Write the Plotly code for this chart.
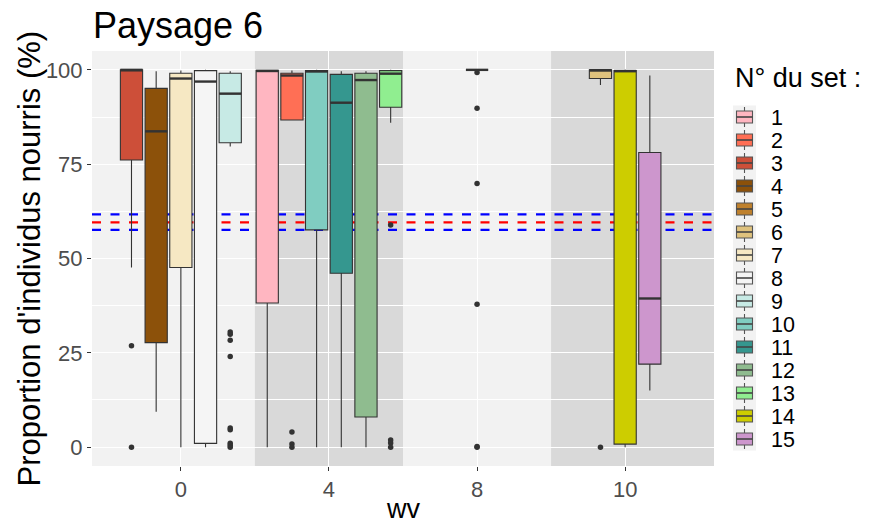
import plotly.graph_objects as go

# ---- data ----
wv_labels = ["0", "4", "8", "10"]
set_ids = list(range(1, 16))
set_wv = ["4", "4", "0", "0", "8", "10", "0", "0", "0", "4", "4", "4", "4", "10", "10"]
lower_fence = [0, 86.7, 47.6, 9.4, 100, 96.0, 0, 0, 79.7, 0, 0, 0, 86.0, 0, 15.0]
q1_vals     = [38.2, 86.7, 76.1, 27.7, 100, 97.7, 47.6, 1.0, 80.7, 57.6, 46.1, 8.0, 90.1, 0.8, 22.0]
median_vals = [99.7, 98.5, 100, 83.7, 100, 99.9, 97.7, 96.9, 93.7, 99.6, 91.3, 97.3, 99.0, 99.7, 39.4]
q3_vals     = [99.9, 99.1, 100, 95.1, 100, 100, 99.1, 99.8, 99.1, 99.8, 98.8, 99.1, 99.8, 99.8, 78.1]
upper_fence = [100, 99.8, 100, 99.6, 100, 100, 99.8, 100, 99.6, 100, 99.6, 99.6, 100, 100, 98.5]
outliers = [
    [], [4.0, 0.8, 0], [26.9, 0], [], [99.3, 89.8, 69.9, 37.9, 0.2, 0], [0],
    [], [], [30.5, 29.9, 28.3, 24.0, 5.1, 4.6, 1.0, 0.5, 0], [], [], [],
    [58.9, 1.9, 1.1, 0], [], [],
]
colors = ["#FFB6C1", "#FF6F55", "#CD4F39", "#8C510A", "#BF812D", "#DFC27D",
          "#F6E8C3", "#F5F5F5", "#C7EAE5", "#80CDC1", "#35978F", "#8FBC8F",
          "#90EE90", "#CDCD00", "#CD96CD"]
ref_mean = 59.6
ref_ci = [57.6, 61.7]
shaded_wv = ["4", "10"]

FONT = "Liberation Sans, Arial, sans-serif"
W, H = 881, 526
L, R, T, B = 92, 714, 51, 466   # panel edges in pixels


def px_x(x):
    return (x - L) / (R - L)


def px_y(y):
    return (B - y) / (B - T)


n_slots = max(set_wv.count(w) for w in wv_labels)
slot = 1.0 / n_slots
box_w = 0.9 * slot

# dodge positions computed from the data
positions = []
for i, s in enumerate(set_ids):
    w = set_wv[i]
    members = [set_ids[k] for k in range(len(set_ids)) if set_wv[k] == w]
    j = members.index(s)
    n = len(members)
    positions.append(wv_labels.index(w) + (j - (n - 1) / 2) * slot)

fig = go.Figure()
med_x, med_y, out_x, out_y = [], [], [], []
for i, s in enumerate(set_ids):
    p = positions[i]
    fig.add_trace(go.Box(
        x=[p], q1=[q1_vals[i]], median=[median_vals[i]], q3=[q3_vals[i]],
        lowerfence=[lower_fence[i]], upperfence=[upper_fence[i]],
        width=box_w, fillcolor=colors[i], boxpoints=False,
        line=dict(color="#333333", width=1.1), whiskerwidth=0,
        name=str(s), showlegend=False, hoverinfo="skip",
    ))
    med_x += [p - box_w / 2, p + box_w / 2, None]
    med_y += [median_vals[i], median_vals[i], None]
    for o in outliers[i]:
        out_x.append(p)
        out_y.append(o)

fig.add_trace(go.Scatter(x=med_x, y=med_y, mode="lines",
                         line=dict(color="#333333", width=2.4),
                         showlegend=False, hoverinfo="skip"))
fig.add_trace(go.Scatter(x=out_x, y=out_y, mode="markers",
                         marker=dict(color="#333333", size=5.5),
                         showlegend=False, hoverinfo="skip"))

xmin, xmax = -0.6, len(wv_labels) - 1 + 0.6
shapes = []
for w in shaded_wv:
    c = wv_labels.index(w)
    x1 = c + 0.5 if c < len(wv_labels) - 1 else xmax
    shapes.append(dict(type="rect", xref="x", yref="paper",
                       x0=max(c - 0.5, xmin), x1=x1,
                       y0=0, y1=1, fillcolor="#D9D9D9", line=dict(width=0), layer="between"))
for yv, col in [(ref_ci[1], "blue"), (ref_mean, "red"), (ref_ci[0], "blue")]:
    shapes.append(dict(type="line", xref="paper", yref="y", x0=0, x1=1, y0=yv, y1=yv,
                       line=dict(color=col, width=2.2, dash="9px,9.5px"), layer="between"))

# ---- legend (drawn manually to reproduce ggplot key spacing) ----
annotations = []
leg_top, leg_step = 105.5, 23.0
key_l, key_r = 733, 756
shapes.append(dict(type="rect", xref="paper", yref="paper",
                   x0=px_x(key_l), x1=px_x(key_r),
                   y0=px_y(leg_top + leg_step * len(set_ids)), y1=px_y(leg_top),
                   fillcolor="#F2F2F2", line=dict(width=0), layer="above"))
for i, s in enumerate(set_ids):
    cy = leg_top + leg_step * (i + 0.5)
    cx = (key_l + key_r) / 2
    shapes.append(dict(type="line", xref="paper", yref="paper",
                       x0=px_x(cx), x1=px_x(cx), y0=px_y(cy - 10), y1=px_y(cy + 10),
                       line=dict(color="#555555", width=1.1), layer="above"))
    shapes.append(dict(type="rect", xref="paper", yref="paper",
                       x0=px_x(cx - 8), x1=px_x(cx + 8), y0=px_y(cy + 6), y1=px_y(cy - 6),
                       fillcolor=colors[i], line=dict(color="#555555", width=1.1), layer="above"))
    shapes.append(dict(type="line", xref="paper", yref="paper",
                       x0=px_x(cx - 8), x1=px_x(cx + 8), y0=px_y(cy), y1=px_y(cy),
                       line=dict(color="#444444", width=1.6), layer="above"))
    annotations.append(dict(text=str(s), xref="paper", yref="paper",
                            x=px_x(769), y=px_y(cy + 1), xanchor="left", yanchor="middle",
                            showarrow=False, font=dict(size=21.5, color="black", family=FONT)))
annotations.append(dict(text="N° du set :", xref="paper", yref="paper",
                        x=px_x(733), y=px_y(78), xanchor="left", yanchor="middle",
                        showarrow=False, font=dict(size=27, color="black", family=FONT)))
# axis titles
annotations.append(dict(text="Proportion d'individus nourris (%)", xref="paper", yref="paper",
                        x=px_x(29), y=0.5, xanchor="center", yanchor="middle", textangle=-90,
                        showarrow=False, font=dict(size=31, color="black", family=FONT)))
annotations.append(dict(text="wv", xref="paper", yref="paper",
                        x=0.5, y=px_y(525.5), xanchor="center", yanchor="bottom",
                        showarrow=False, font=dict(size=27, color="black", family=FONT)))

fig.update_layout(
    width=W, height=H,
    margin=dict(l=L, r=W - R, t=T, b=H - B),
    paper_bgcolor="white", plot_bgcolor="#F2F2F2",
    font=dict(family=FONT, color="black"),
    title=dict(text="Paysage 6", font=dict(size=36, color="black", family=FONT),
               x=(L + 1) / W, xanchor="left", y=1 - 25 / H, yanchor="middle"),
    shapes=shapes,
    annotations=annotations,
    showlegend=False,
    xaxis=dict(range=[xmin, xmax], tickmode="array",
               tickvals=list(range(len(wv_labels))), ticktext=wv_labels,
               showgrid=True, gridcolor="white", gridwidth=1.1, zeroline=False,
               ticks="outside", ticklen=4, tickcolor="#333333", automargin=False,
               tickfont=dict(size=22, color="#4D4D4D", family=FONT)),
    yaxis=dict(range=[-5, 105], tickvals=[0, 25, 50, 75, 100],
               showgrid=True, gridcolor="white", gridwidth=1.1, zeroline=False,
               minor=dict(tickvals=[12.5, 37.5, 62.5, 87.5], showgrid=True,
                          gridcolor="white", gridwidth=0.5, ticks=""),
               ticks="outside", ticklen=4, tickcolor="#333333", automargin=False,
               tickfont=dict(size=22, color="#4D4D4D", family=FONT)),
)

fig.write_html("out.html", config={"displayModeBar": False},
               post_script="document.body.style.margin='0px';document.body.style.overflow='hidden';")
